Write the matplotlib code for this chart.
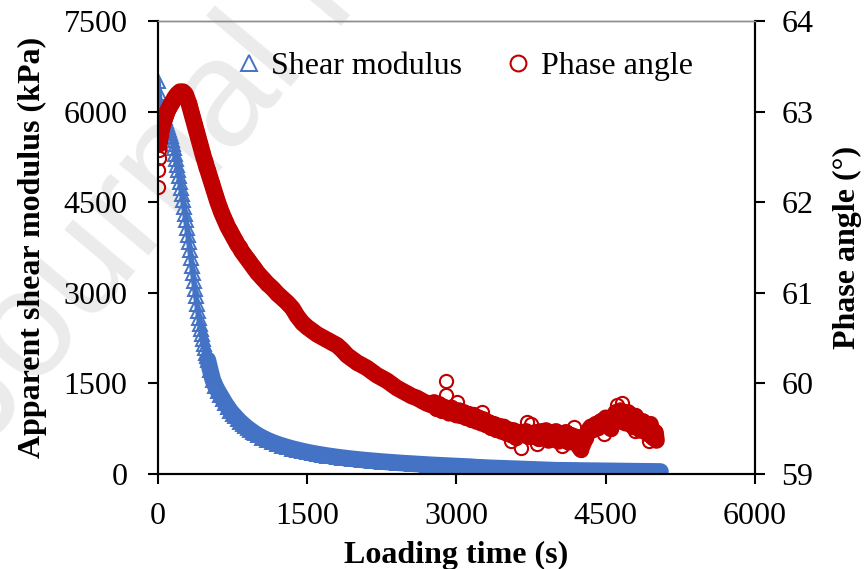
import matplotlib.pyplot as plt
import numpy as np

plt.rcParams['font.family'] = ['Liberation Serif', 'DejaVu Serif']

# Shear modulus (kPa) vs loading time (s)
t_shear = [0, 10, 20, 30, 40, 50, 60, 70, 80, 90, 100, 110, 120, 130, 140, 150, 160, 170, 180, 190,
           200, 210, 220, 230, 240, 250, 260, 270, 280, 290, 300, 310, 320, 330, 340, 350, 360, 370, 380, 390,
           400, 410, 420, 430, 440, 450, 460, 470, 480, 490, 500, 525, 550, 575, 600, 625, 650, 675, 700, 725,
           750, 775, 800, 825, 850, 875, 900, 925, 950, 975, 1000, 1050, 1100, 1150, 1200, 1250, 1300, 1350, 1400, 1450,
           1500, 1550, 1600, 1650, 1700, 1750, 1800, 1850, 1900, 1950, 2000, 2050, 2100, 2150, 2200, 2250, 2300, 2350, 2400, 2450,
           2500, 2550, 2600, 2650, 2700, 2750, 2800, 2850, 2900, 2950, 3000, 3050, 3100, 3150, 3200, 3250, 3300, 3350, 3400, 3450,
           3500, 3550, 3600, 3650, 3700, 3750, 3800, 3850, 3900, 3950, 4000, 4050, 4100, 4150, 4200, 4250, 4300, 4350, 4400, 4450,
           4500, 4550, 4600, 4650, 4700, 4750, 4800, 4850, 4900, 4950, 5000, 5050]
shear = [6500, 6300, 6150, 6100, 6050, 6000, 5950, 5900, 5850, 5800, 5750, 5700, 5650, 5590, 5530, 5470, 5390, 5300, 5210, 5120,
         5030, 4930, 4830, 4730, 4630, 4530, 4420, 4310, 4200, 4080, 3960, 3840, 3710, 3580, 3450, 3320, 3190, 3060, 2940, 2820,
         2700, 2590, 2490, 2400, 2310, 2230, 2150, 2080, 2010, 1950, 1890, 1720, 1560, 1460, 1380, 1310, 1240, 1170, 1110, 1050,
         1000, 955, 910, 868, 830, 795, 760, 730, 700, 672, 645, 600, 560, 525, 495, 468, 443, 420, 400, 380,
         362, 346, 331, 317, 304, 292, 281, 270, 260, 251, 242, 234, 226, 219, 212, 205, 199, 193, 187, 181,
         176, 171, 166, 161, 156, 151, 147, 143, 139, 135, 131, 127, 123, 119, 112, 109, 105, 101, 98, 95,
         92, 89, 86, 83, 80, 77, 74, 71, 68, 65, 62, 61, 60, 59, 58, 57, 56, 55, 54, 53,
         52, 51, 50, 49, 48, 47, 46, 45, 44, 43, 42, 41]

# Phase angle (deg) vs loading time (s)
t_phase = [0, 3, 6, 9, 12, 16, 20, 25, 30, 40, 50, 60, 70, 80, 90, 100, 110, 120, 130, 140,
           150, 160, 170, 180, 190, 200, 210, 220, 230, 240, 250, 260, 270, 280, 290, 300, 310, 320, 330, 340,
           350, 360, 370, 380, 390, 400, 410, 420, 430, 440, 450, 460, 470, 480, 490, 500, 520, 540, 560, 580,
           600, 620, 640, 660, 680, 700, 720, 740, 760, 780, 800, 820, 840, 860, 880, 900, 920, 940, 960, 980,
           1000, 1050, 1100, 1150, 1200, 1250, 1300, 1350, 1400, 1450, 1500, 1550, 1600, 1650, 1700, 1750, 1800, 1850, 1900, 1950,
           2000, 2050, 2100, 2150, 2200, 2250, 2300, 2350, 2400, 2450, 2500, 2550, 2600, 2650, 2700, 2750, 2775, 2800, 2825, 2850,
           2875, 2900, 2925, 2950, 2975, 3000, 3025, 3050, 3075, 3100, 3125, 3150, 3175, 3200, 3225, 3250, 3275, 3300,
           3325, 3350, 3375, 3400, 3425, 3450, 3475, 3500, 3525, 3550, 3575, 3600, 3625, 3675, 3700, 3725, 3775, 3800,
           3825, 3850, 3875, 3900, 3925, 3950, 3975, 4000, 4025, 4050, 4075, 4100, 4125, 4150, 4175, 4200, 4225, 4250, 4275, 4300,
           4325, 4350, 4375, 4400, 4425, 4450, 4475, 4500, 4525, 4550, 4575, 4600, 4625, 4650, 4675, 4700, 4725, 4750, 4775, 4800,
           4825, 4850, 4875, 4900, 4925, 4950, 4975, 5000, 5010]
phase = [62.17, 62.36, 62.49, 62.58, 62.64, 62.68, 62.71, 62.74, 62.77, 62.82, 62.86, 62.90, 62.93, 62.96, 62.99, 63.02, 63.04, 63.06, 63.08, 63.10,
         63.12, 63.14, 63.16, 63.17, 63.19, 63.20, 63.21, 63.22, 63.22, 63.22, 63.22, 63.21, 63.20, 63.18, 63.15, 63.12, 63.09, 63.05, 63.01, 62.97,
         62.93, 62.89, 62.85, 62.81, 62.77, 62.73, 62.69, 62.65, 62.61, 62.57, 62.53, 62.49, 62.46, 62.42, 62.38, 62.35, 62.28, 62.21, 62.14, 62.07,
         62.00, 61.94, 61.88, 61.83, 61.78, 61.73, 61.69, 61.65, 61.61, 61.57, 61.53, 61.50, 61.46, 61.43, 61.40, 61.37, 61.34, 61.31, 61.28, 61.25,
         61.22, 61.16, 61.10, 61.05, 60.99, 60.94, 60.89, 60.83, 60.74, 60.67, 60.62, 60.58, 60.54, 60.51, 60.48, 60.45, 60.42, 60.37, 60.31, 60.27,
         60.23, 60.20, 60.17, 60.13, 60.09, 60.06, 60.03, 59.99, 59.95, 59.92, 59.89, 59.86, 59.84, 59.81, 59.78, 59.76, 59.79, 59.72, 59.77, 59.70,
         59.74, 59.71, 59.67, 59.73, 59.69, 59.65, 59.70, 59.64, 59.68, 59.62, 59.66, 59.60, 59.65, 59.58, 59.62, 59.56, 59.60, 59.54,
         59.57, 59.51, 59.55, 59.49, 59.53, 59.47, 59.52, 59.45, 59.49, 59.43, 59.48, 59.40, 59.46, 59.44, 59.47, 59.41, 59.42, 59.46,
         59.39, 59.47, 59.41, 59.48, 59.37, 59.45, 59.40, 59.47, 59.36, 59.44, 59.39, 59.46, 59.35, 59.43, 59.38, 59.41, 59.31, 59.27, 59.34, 59.40,
         59.48, 59.52, 59.49, 59.55, 59.51, 59.58, 59.54, 59.62, 59.56, 59.50, 59.60, 59.68, 59.58, 59.70, 59.62, 59.56, 59.68, 59.60, 59.52, 59.64,
         59.56, 59.48, 59.58, 59.50, 59.44, 59.55, 59.40, 59.46, 59.37]

# isolated phase-angle readings off the main band
t_phase_out = [2890, 2895, 3010, 3260, 3550, 3650, 3705, 3750, 3810, 4060, 4180, 4480, 4610, 4660, 4790, 4930]
phase_out = [60.03, 59.87, 59.80, 59.68, 59.36, 59.29, 59.57, 59.55, 59.33, 59.31, 59.52, 59.44, 59.76, 59.78, 59.47, 59.36]

blue = '#4472C4'
red = '#C00000'

fig = plt.figure(figsize=(8.64, 5.69), dpi=100)

# faint watermark behind everything
fig.text(-0.115, 0.17, 'Journal Pre-proof', fontsize=110, color='#ebebeb',
         rotation=50, family='Liberation Sans', ha='left', va='bottom', zorder=-5)

ax = fig.add_axes([0.1829, 0.1670, 0.6909, 0.7961])
ax.patch.set_alpha(0)
ax2 = ax.twinx()

# dense overlapping markers -> solid band
i_s = t_shear.index(500)
ax.plot(t_shear[:i_s + 1], shear[:i_s + 1], '-', color=blue, lw=4, zorder=1)
ax.plot(t_shear[i_s:], shear[i_s:], '-', color=blue, lw=12, solid_capstyle='round', zorder=1)
ax.plot(t_shear, shear, linestyle='none', marker='^', ms=10, mfc='none', mec=blue, mew=1.4,
        label='Shear modulus', zorder=2)
i_p = t_phase.index(12)
ax2.plot(t_phase[i_p:], phase[i_p:], '-', color=red, lw=12, solid_capstyle='round', zorder=1)
ax2.plot(t_phase, phase, linestyle='none', marker='o', ms=9.5, mfc='none', mec=red, mew=1.5,
         label='Phase angle', zorder=2)
ax2.plot(t_phase_out, phase_out, linestyle='none', marker='o', ms=9.5, mfc='none', mec=red,
         mew=1.5, zorder=2)

ax.set_xlim(0, 6000)
ax.set_ylim(0, 7500)
ax2.set_ylim(59, 64)
ax.set_xticks(np.arange(0, 6001, 1500))
ax.set_yticks(np.arange(0, 7501, 1500))
ax2.set_yticks(np.arange(59, 64.1, 1))

ax.tick_params(axis='x', direction='out', length=7, width=1.5, pad=13, labelsize=23)
ax.tick_params(axis='y', direction='out', length=7, width=1.5, pad=15, labelsize=23)
ax2.tick_params(axis='y', direction='out', length=7, width=1.5, pad=12, labelsize=23)

for a in (ax, ax2):
    for s in ('left', 'bottom', 'right'):
        a.spines[s].set_linewidth(1.5)
        a.spines[s].set_color('black')
    a.spines['top'].set_color('#8c8c8c')
    a.spines['top'].set_linewidth(1.0)

ax.set_xlabel('Loading time (s)', fontsize=23, fontweight='bold', labelpad=7)
ax.set_ylabel('Apparent shear modulus (kPa)', fontsize=23, fontweight='bold', labelpad=12)
ax2.set_ylabel('Phase angle (°)', fontsize=23, fontweight='bold', labelpad=14)

h1, l1 = ax.get_legend_handles_labels()
h2, l2 = ax2.get_legend_handles_labels()
fig.legend(h1 + h2, l1 + l2, loc='center left', bbox_to_anchor=(0.24, 0.884), ncol=2,
           frameon=False, fontsize=23, handlelength=0.8, handletextpad=0.3, columnspacing=1.35,
           markerscale=1.2)

fig.savefig('out.png', dpi=100)
